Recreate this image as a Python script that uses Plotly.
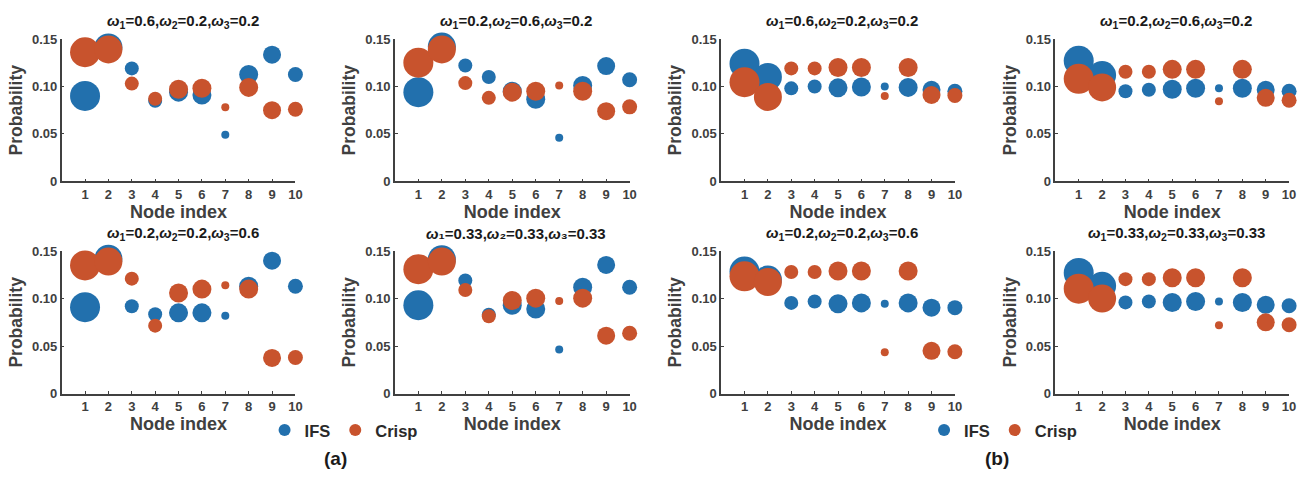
import plotly.graph_objects as go

nodes = [1, 2, 3, 4, 5, 6, 7, 8, 9, 10]

# (a) panels
a1_ifs   = [0.090, 0.141, 0.119, 0.085, 0.094, 0.091, 0.049, 0.1125, 0.1335, 0.1125]
a1_crisp = [0.136, 0.139, 0.103, 0.087, 0.097, 0.098, 0.078, 0.099, 0.075, 0.076]
a2_ifs   = [0.094, 0.142, 0.122, 0.110, 0.095, 0.0865, 0.046, 0.101, 0.1215, 0.107]
a2_crisp = [0.125, 0.139, 0.1035, 0.088, 0.094, 0.095, 0.101, 0.095, 0.074, 0.0785]
a3_ifs   = [0.091, 0.142, 0.092, 0.0835, 0.085, 0.085, 0.082, 0.113, 0.140, 0.113]
a3_crisp = [0.135, 0.139, 0.121, 0.0715, 0.106, 0.110, 0.114, 0.110, 0.0375, 0.038]
a4_ifs   = [0.093, 0.1415, 0.119, 0.083, 0.093, 0.089, 0.0465, 0.112, 0.1355, 0.112]
a4_crisp = [0.131, 0.139, 0.109, 0.0815, 0.098, 0.1005, 0.0975, 0.1005, 0.061, 0.0635]

# (b) panels
b1_ifs   = [0.124, 0.110, 0.098, 0.100, 0.0985, 0.0995, 0.100, 0.099, 0.0965, 0.095]
b1_crisp = [0.1045, 0.089, 0.119, 0.119, 0.120, 0.120, 0.090, 0.120, 0.091, 0.0905]
b2_ifs   = [0.127, 0.112, 0.095, 0.0965, 0.097, 0.098, 0.098, 0.098, 0.0965, 0.095]
b2_crisp = [0.108, 0.099, 0.1155, 0.1155, 0.118, 0.118, 0.0845, 0.118, 0.088, 0.0855]
b3_ifs   = [0.1285, 0.120, 0.0955, 0.097, 0.0945, 0.0955, 0.0945, 0.0955, 0.0905, 0.0905]
b3_crisp = [0.1235, 0.1175, 0.128, 0.128, 0.129, 0.129, 0.0435, 0.129, 0.045, 0.044]
b4_ifs   = [0.127, 0.1135, 0.096, 0.097, 0.096, 0.097, 0.097, 0.096, 0.0935, 0.0925]
b4_crisp = [0.1105, 0.100, 0.1205, 0.1205, 0.122, 0.122, 0.072, 0.122, 0.075, 0.0725]

titles = [
    "<i>ω</i><sub>1</sub>=0.6,<i>ω</i><sub>2</sub>=0.2,<i>ω</i><sub>3</sub>=0.2",
    "<i>ω</i><sub>1</sub>=0.2,<i>ω</i><sub>2</sub>=0.6,<i>ω</i><sub>3</sub>=0.2",
    "<i>ω</i><sub>1</sub>=0.6,<i>ω</i><sub>2</sub>=0.2,<i>ω</i><sub>3</sub>=0.2",
    "<i>ω</i><sub>1</sub>=0.2,<i>ω</i><sub>2</sub>=0.6,<i>ω</i><sub>3</sub>=0.2",
    "<i>ω</i><sub>1</sub>=0.2,<i>ω</i><sub>2</sub>=0.2,<i>ω</i><sub>3</sub>=0.6",
    "<i>ω</i>₁=0.33,<i>ω</i>₂=0.33,<i>ω</i>₃=0.33",
    "<i>ω</i><sub>1</sub>=0.2,<i>ω</i><sub>2</sub>=0.2,<i>ω</i><sub>3</sub>=0.6",
    "<i>ω</i><sub>1</sub>=0.33,<i>ω</i><sub>2</sub>=0.33,<i>ω</i><sub>3</sub>=0.33",
]

y_tickvals = [0, 0.05, 0.10, 0.15]
y_ticktext = ["0", "0.05", "0.10", "0.15"]

# style
marker_sizes = [30, 28, 14, 14, 19, 19, 8, 19, 18, 15]
BLUE = "#2270ad"
ORANGE = "#c8532d"
AXC = "#404040"
FONT = "Liberation Sans, Arial, sans-serif"

W, H = 1315, 481
col_px = [(62, 297), (397, 633), (725, 960), (1061, 1296)]
row_px = [(33, 180), (252, 399)]

panels = [
    (a1_ifs, a1_crisp, 0, 0), (a2_ifs, a2_crisp, 0, 1),
    (b1_ifs, b1_crisp, 0, 2), (b2_ifs, b2_crisp, 0, 3),
    (a3_ifs, a3_crisp, 1, 0), (a4_ifs, a4_crisp, 1, 1),
    (b3_ifs, b3_crisp, 1, 2), (b4_ifs, b4_crisp, 1, 3),
]

fig = go.Figure()
layout = dict(
    width=W, height=H, margin=dict(l=0, r=0, t=0, b=0),
    paper_bgcolor="white", plot_bgcolor="white",
    font=dict(family=FONT, color=AXC),
    annotations=[],
)

for i, (ifs, crisp, r, c) in enumerate(panels):
    k = i + 1
    xn = "x" if k == 1 else f"x{k}"
    yn = "y" if k == 1 else f"y{k}"
    x0, x1 = col_px[c]
    t0, t1 = row_px[r]
    leg = None
    show = False
    if k == 1:
        leg, show = "legend", True
    elif k == 3:
        leg, show = "legend2", True
    for vals, name, colr in ((ifs, "IFS", BLUE), (crisp, "Crisp", ORANGE)):
        tr = dict(
            x=nodes, y=vals, mode="markers", name=name,
            marker=dict(size=marker_sizes, color=colr, opacity=1, line=dict(width=0)),
            xaxis=xn, yaxis=yn, cliponaxis=False, showlegend=show,
        )
        if leg:
            tr["legend"] = leg
        fig.add_trace(go.Scatter(**tr))
    xa = "xaxis" if k == 1 else f"xaxis{k}"
    ya = "yaxis" if k == 1 else f"yaxis{k}"
    layout[xa] = dict(
        domain=[x0 / W, x1 / W], anchor=yn, range=[0, 10],
        tickvals=nodes, ticktext=[str(n) for n in nodes],
        showline=True, linecolor=AXC, linewidth=1.5, showgrid=False, zeroline=False,
        ticks="inside", ticklen=3, tickcolor=AXC, tickwidth=1,
        tickfont=dict(size=13, color=AXC, family=FONT, weight="bold"),
        title=dict(text="<b>Node index</b>", font=dict(size=18, color=AXC), standoff=1),
    )
    layout[ya] = dict(
        domain=[1 - t1 / H, 1 - t0 / H], anchor=xn, range=[0, 0.15],
        tickvals=y_tickvals, ticktext=y_ticktext,
        showline=True, linecolor=AXC, linewidth=1.5, showgrid=False, zeroline=False,
        ticks="inside", ticklen=3, tickcolor=AXC, tickwidth=1,
        tickfont=dict(size=13, color=AXC, family=FONT, weight="bold"),
        title=dict(text="<b>Probability</b>", font=dict(size=17.5, color=AXC), standoff=5),
    )
    layout["annotations"].append(dict(
        text=f"<b>{titles[i]}</b>", x=(x0 + x1) / 2 / W + 4 / W, y=1 - (t0 - 18) / H,
        xref="paper", yref="paper", xanchor="center", yanchor="middle",
        showarrow=False, font=dict(size=15, color="#1a1a1a", family=FONT),
    ))

layout["annotations"].append(dict(text="<b>(a)</b>", x=337 / W, y=1 - 466 / H,
    xref="paper", yref="paper", xanchor="center", yanchor="middle", showarrow=False,
    font=dict(size=19, color="#1a1a1a", family=FONT)))
layout["annotations"].append(dict(text="<b>(b)</b>", x=1002 / W, y=1 - 466 / H,
    xref="paper", yref="paper", xanchor="center", yanchor="middle", showarrow=False,
    font=dict(size=19, color="#1a1a1a", family=FONT)))

legfont = dict(size=16.5, color="#2a2a2a", family=FONT, weight="bold")
layout["legend"] = dict(orientation="h", x=266 / W, y=1 - 437 / H, xanchor="left", yanchor="middle",
                        font=legfont, itemsizing="constant", bgcolor="rgba(0,0,0,0)",
                        itemclick=False)
layout["legend2"] = dict(orientation="h", x=929 / W, y=1 - 437 / H, xanchor="left", yanchor="middle",
                         font=legfont, itemsizing="constant", bgcolor="rgba(0,0,0,0)",
                         itemclick=False)

fig.update_layout(**layout)
fig.write_html("out.html")
